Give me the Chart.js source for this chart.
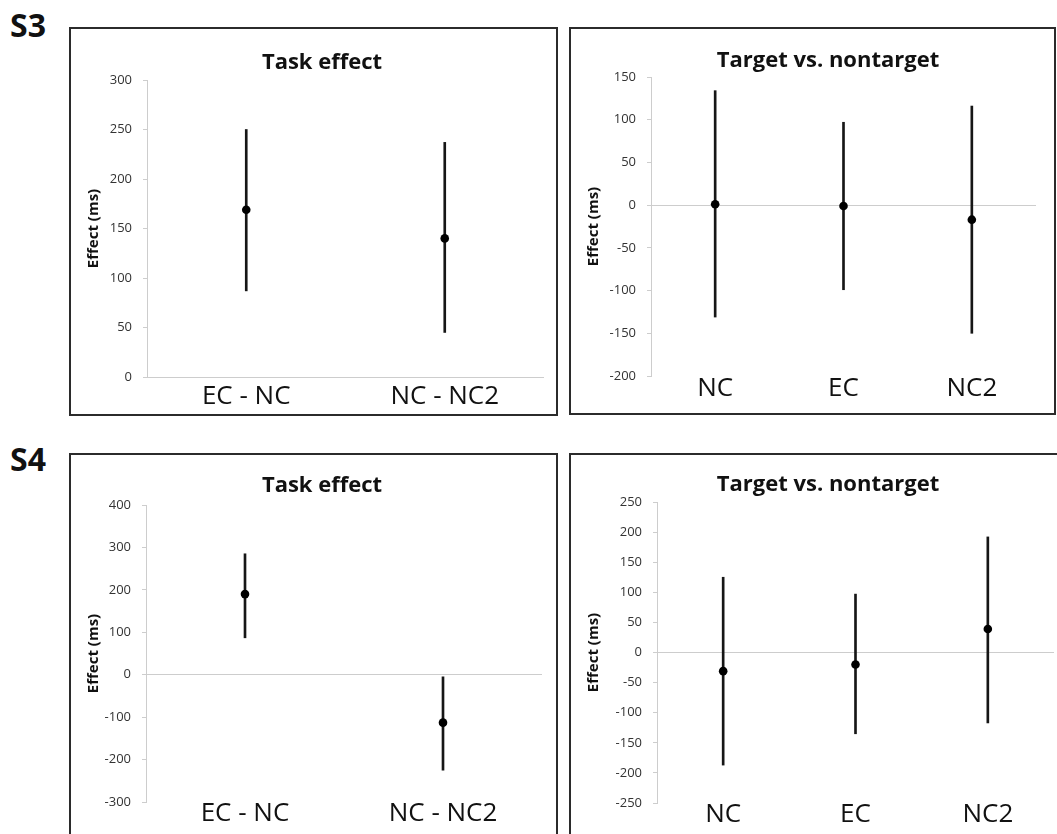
<!DOCTYPE html>
<html>
<head>
<meta charset="utf-8">
<script src="https://cdn.jsdelivr.net/npm/chart.js@4.4.1/dist/chart.umd.min.js"></script>
<style>
  body { margin: 0; background: #fff; }
  #page { position: relative; width: 1057px; height: 834px; overflow: hidden; font-family: 'Open Sans', sans-serif; }
  .tag { position: absolute; font-weight: 700; font-size: 32px; line-height: 32px; color: #111; }
  .box { position: absolute; box-sizing: border-box; border: 2px solid #2b2b2b; background: #fff; }
  .box canvas { position: absolute; left: 0; top: 0; }
  .ttl { position: absolute; width: 320px; text-align: center; font-weight: 700; font-size: 22px; line-height: 26px; color: #111; }
</style>
</head>
<body>
<div id="page">
  <div class="tag" style="left:10px;top:9px">S3</div>
  <div class="box" style="left:69px;top:27px;width:489px;height:389px">
    <canvas id="s3Task" width="485" height="385"></canvas>
    <div class="ttl" style="left:91px;top:18px">Task effect</div>
  </div>
  <div class="box" style="left:569px;top:27px;width:487px;height:388px">
    <canvas id="s3Target" width="483" height="384"></canvas>
    <div class="ttl" style="left:97px;top:16px">Target vs. nontarget</div>
  </div>

  <div class="tag" style="left:10px;top:443px">S4</div>
  <div class="box" style="left:69px;top:453px;width:489px;height:400px">
    <canvas id="s4Task" width="485" height="396"></canvas>
    <div class="ttl" style="left:91px;top:15px">Task effect</div>
  </div>
  <div class="box" style="left:569px;top:453px;width:500px;height:400px">
    <canvas id="s4Target" width="496" height="396"></canvas>
    <div class="ttl" style="left:97px;top:14px">Target vs. nontarget</div>
  </div>
</div>

<script>
// effect sizes in ms: mean with lower / upper error limits
const taskCats = ['EC - NC', 'NC - NC2'];
const targetCats = ['NC', 'EC', 'NC2'];

const s3TaskMean = [169, 140];
const s3TaskLow  = [87, 45];
const s3TaskHigh = [250, 237];

const s3TargetMean = [1, -1, -17];
const s3TargetLow  = [-131, -99, -150];
const s3TargetHigh = [134, 97, 116];

const s4TaskMean = [190, -113];
const s4TaskLow  = [87, -225];
const s4TaskHigh = [285, -5];

const s4TargetMean = [-31, -20, 39];
const s4TargetLow  = [-187, -135, -117];
const s4TargetHigh = [125, 97, 192];

// y axis [min, max, step]
const s3TaskAxis   = [0, 300, 50];
const s3TargetAxis = [-200, 150, 50];
const s4TaskAxis   = [-300, 400, 100];
const s4TargetAxis = [-250, 250, 50];

Chart.defaults.font.family = "'Open Sans', sans-serif";

const AXIS_GREY = '#cdcdcd';

// one boxed panel: error bars as floating bars, means as points
function renderPanel(id, cats, mean, low, high, axis, frame) {
  const canvas = document.getElementById(id);
  return new Chart(canvas, {
    type: 'bar',
    data: {
      labels: cats,
      datasets: [
        {
          type: 'line',
          data: mean,
          showLine: false,
          pointRadius: 4.3,
          pointBackgroundColor: '#000',
          pointBorderWidth: 0,
          order: 0,
        },
        {
          type: 'bar',
          data: low.map((v, i) => [v, high[i]]),
          backgroundColor: '#161616',
          barThickness: 2,
          order: 1,
        }
      ]
    },
    options: {
      responsive: false,
      animation: false,
      layout: { padding: { top: frame.top, right: frame.right, bottom: 0, left: 0 } },
      plugins: { legend: { display: false }, tooltip: { enabled: false } },
      scales: {
        x: {
          offset: true,
          grid: { display: false, drawTicks: false },
          border: { display: false },
          ticks: { color: '#111', padding: frame.labelPad, font: { size: 26, lineHeight: 1 } },
          afterFit: s => { s.height = frame.axisH; }
        },
        y: {
          min: axis[0],
          max: axis[1],
          ticks: { stepSize: axis[2], color: '#333', padding: 11, font: { size: 13 } },
          grid: {
            // only the zero line is drawn across the plot
            color: c => (c.tick && c.tick.value === 0) ? AXIS_GREY : 'rgba(0,0,0,0)',
            tickColor: AXIS_GREY,
            tickLength: 4,
          },
          border: { color: AXIS_GREY },
          title: {
            display: true,
            text: 'Effect (ms)',
            color: '#111',
            font: { size: 15, weight: 'bold' },
            padding: { top: 14, bottom: 0 }
          },
          afterFit: s => { s.width = frame.axisW; }
        }
      }
    }
  });
}

renderPanel('s3Task', taskCats, s3TaskMean, s3TaskLow, s3TaskHigh, s3TaskAxis,
  { top: 51, right: 12, axisW: 76, axisH: 37, labelPad: 7 });
renderPanel('s3Target', targetCats, s3TargetMean, s3TargetLow, s3TargetHigh, s3TargetAxis,
  { top: 48, right: 18, axisW: 80, axisH: 37, labelPad: 0 });
renderPanel('s4Task', taskCats, s4TaskMean, s4TaskLow, s4TaskHigh, s4TaskAxis,
  { top: 50, right: 14, axisW: 75, axisH: 49, labelPad: -1 });
renderPanel('s4Target', targetCats, s4TargetMean, s4TargetLow, s4TargetHigh, s4TargetAxis,
  { top: 47, right: 13, axisW: 86, axisH: 48, labelPad: -1 });
</script>
</body>
</html>
